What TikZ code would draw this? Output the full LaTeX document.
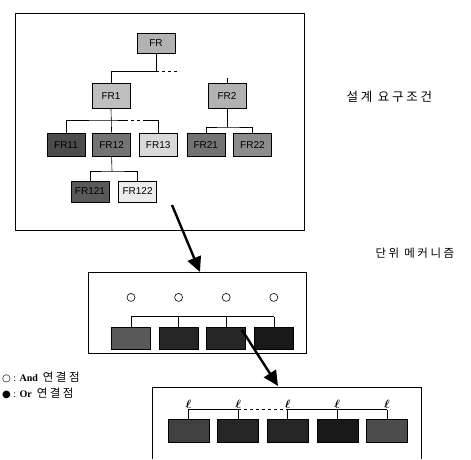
\documentclass[tikz,border=0pt]{standalone}
\usepackage{amsmath}
\usepackage{fontspec}
\setmainfont{Liberation Serif}
\setsansfont{Liberation Sans}
\newfontfamily\kor[LetterSpace=22]{Noto Sans CJK KR}
\newfontfamily\sym{DejaVu Sans}
\usetikzlibrary{positioning,arrows.meta}

\begin{document}
\begin{tikzpicture}[x=1pt,y=-1pt,node distance=8pt,
    fr/.style={rectangle,draw,line width=0.6pt,minimum width=38pt,
               minimum height=23pt,inner sep=1pt,font=\sffamily},
    unit/.style={rectangle,draw,line width=0.6pt,minimum width=39pt,
                 minimum height=22pt},
    andpt/.style={circle,draw,line width=0.6pt,minimum size=8pt,inner sep=0pt},
    frame/.style={draw,line width=0.9pt},
    link/.style={draw,line width=0.6pt},
    label/.style={font=\kor\fontsize{12.5}{15}\selectfont},
    bigarrow/.style={line width=2.4pt,-{Triangle[length=15pt,width=14pt]}}]
  \useasboundingbox (0,0) rectangle (471,459);

  % design requirements
  \draw[frame] (15,13) rectangle (304,230);
  \node[fr,fill=black!30,minimum height=20pt] (FR) at (156,43) {FR};
  \node[fr,fill=black!25,minimum height=25pt] (FR1) at (111,96) {FR1};
  \node[fr,fill=black!30,minimum height=25pt] (FR2) at (227,96) {FR2};
  \node[fr,fill=black!70] (FR11) at (66,145) {FR11};
  \node[fr,fill=black!55,right=7pt of FR11] (FR12) {FR12};
  \node[fr,fill=black!15,right=8pt of FR12] (FR13) {FR13};
  \node[fr,fill=black!55,right=9pt of FR13] (FR21) {FR21};
  \node[fr,fill=black!45,right=8pt of FR21] (FR22) {FR22};
  \node[fr,fill=black!65,minimum height=21pt] (FR121) at (90,191.5) {FR121};
  \node[fr,fill=black!8,minimum height=21pt,right=9pt of FR121] (FR122) {FR122};

  \coordinate (j0) at (156,71);
  \draw[link] (FR.south) -- (j0) -| (FR1.north);
  \draw[link,dashed] (j0) -- ++(24,0);
  \draw[link] (FR2.north) -- ++(0,-5);

  \coordinate (j1) at (111,120);
  \draw[link] (FR1.south) -- (FR12.north);
  \draw[link] (FR11.north) |- (j1) -- ++(14,0);
  \draw[link,dashed] (j1) ++(14,0) -- ++(20,0);
  \draw[link] (FR13.north) -- ++(0,-13) -- ++(-13,0);

  \coordinate (j2) at (227,127);
  \draw[link] (FR2.south) -- (j2);
  \draw[link] (FR21.north) |- (j2) -| (FR22.north);

  \coordinate (j3) at (112,171);
  \draw[link] (FR12.south) -- (j3);
  \draw[link] (FR121.north) |- (j3) -| (FR122.north);

  \node[label,anchor=west] (req) at (343,97) {설계 요구조건};

  % unit mechanisms
  \draw[frame] (88,272) rectangle (306,353);
  \node[unit,fill=black!65] (U1) at (131,338) {};
  \node[unit,fill=black!85,right=8pt of U1] (U2) {};
  \node[unit,fill=black!85,right=8pt of U2] (U3) {};
  \node[unit,fill=black!90,right=8pt of U3] (U4) {};
  \foreach \i in {1,...,4}
    \node[andpt,above=25pt of U\i] (A\i) {};
  \draw[link] (U1.north) -- ++(0,-10) coordinate (b1) -- (b1 -| U4.north);
  \foreach \i in {2,3,4}
    \draw[link] (U\i.north) -- (U\i.north |- b1);

  \node[label,anchor=west,font=\kor\fontsize{11.5}{14}\selectfont] (mech) at (372,253) {단위 메커니즘};

  % lower level
  \draw[frame] (152,459) |- (421,387) -- (421,459);
  \node[unit,fill=black!75,minimum width=41pt,minimum height=23pt] (V1) at (188.5,430.5) {};
  \node[unit,fill=black!85,minimum width=41pt,minimum height=23pt,right=8pt of V1] (V2) {};
  \node[unit,fill=black!85,minimum width=41pt,minimum height=23pt,right=8pt of V2] (V3) {};
  \node[unit,fill=black!90,minimum width=41pt,minimum height=23pt,right=8pt of V3] (V4) {};
  \node[unit,fill=black!70,minimum width=41pt,minimum height=23pt,right=8pt of V4] (V5) {};
  \draw[link] (V1.north) -- ++(0,-9) coordinate (l1) -- (l1 -| V2.north);
  \draw[link,dashed] (l1 -| V2.north) -- (l1 -| V3.north);
  \draw[link] (l1 -| V3.north) -- (l1 -| V5.north);
  \foreach \i in {2,...,5}
    \draw[link] (V\i.north) -- (V\i.north |- l1);
  \foreach \i in {1,...,5}
    \node[anchor=south,inner sep=1pt,font=\large] (L\i) at (V\i.north |- l1) {$\boldsymbol{\ell}$};

  % arrows
  \coordinate (s1) at (172,205);
  \coordinate (t1) at (200,272);
  \draw[bigarrow] (s1) -- (t1);
  \coordinate (s2) at (242,330);
  \coordinate (t2) at (278,386);
  \draw[bigarrow] (s2) -- (t2);

  % legend
  \node[anchor=west,inner sep=0pt] (andkey) at (2,377)
    {{\sym ○} : \textbf{And}\ \ {\kor\fontsize{11.5}{14}\selectfont 연결점}};
  \node[anchor=west,inner sep=0pt] (orkey) at (2,393)
    {{\sym ●} : \textbf{Or}\ \ {\kor\fontsize{11.5}{14}\selectfont 연결점}};
\end{tikzpicture}
\end{document}
